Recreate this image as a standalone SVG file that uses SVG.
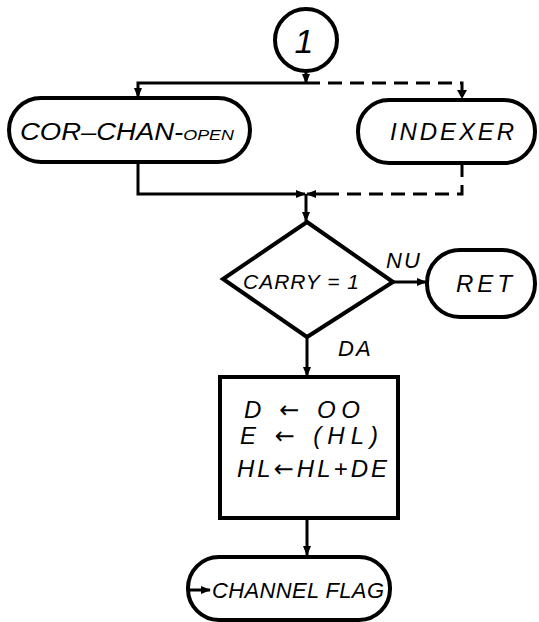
<svg xmlns="http://www.w3.org/2000/svg" width="539" height="622" viewBox="0 0 539 622">
<style>
.sh{fill:#fff;stroke:#000;stroke-width:4}
.ln{fill:none;stroke:#000;stroke-width:3}
.ds{fill:none;stroke:#000;stroke-width:3;stroke-dasharray:14 8}
.t{font-family:"Liberation Sans",Arial,sans-serif;font-style:italic;fill:#000}
.ar{font-family:"DejaVu Sans",sans-serif;font-style:normal}
</style>
<defs>
<marker id="a" markerWidth="10" markerHeight="10" refX="9" refY="5" orient="auto" markerUnits="userSpaceOnUse" viewBox="0 0 10 10">
<path d="M0,1 L10,5 L0,9 Z" fill="#000"/>
</marker>
</defs>
<g id="connectors">
<line class="ln" x1="306" y1="71" x2="306" y2="83" marker-end="url(#a)"/>
<polyline class="ln" points="306,83 138,83 138,97" marker-end="url(#a)"/>
<polyline class="ds" points="306,83 462,83 462,99"/>
<path d="M457,90 L462,99 L467,90 Z" fill="#000"/>
<polyline class="ln" points="138,162 138,194 305,194" marker-end="url(#a)"/>
<polyline class="ds" points="462,163 462,194 330,194"/>
<line class="ln" x1="330" y1="194" x2="307" y2="194" marker-end="url(#a)"/>
<line class="ln" x1="306" y1="194" x2="306" y2="221" marker-end="url(#a)"/>
<line class="ln" x1="393" y1="282" x2="426" y2="282" marker-end="url(#a)"/>
<line class="ln" x1="307" y1="338" x2="307" y2="376" marker-end="url(#a)"/>
<line class="ln" x1="307" y1="519" x2="307" y2="555" marker-end="url(#a)"/>
</g>
<g id="start">
<circle class="sh" cx="306" cy="40" r="31"/>
<text class="t" x="304" y="53" text-anchor="middle" font-size="34">1</text>
</g>
<g id="cor-chan-open">
<rect class="sh" x="9" y="98" width="241" height="64" rx="32"/>
<text class="t" x="20" y="140" font-size="23" textLength="214" lengthAdjust="spacingAndGlyphs">COR–CHAN-<tspan font-size="15">OPEN</tspan></text>
</g>
<g id="indexer">
<rect class="sh" x="358" y="100" width="177" height="63" rx="31"/>
<text class="t" x="390" y="140" font-size="24" textLength="124" lengthAdjust="spacing">INDEXER</text>
</g>
<g id="carry">
<polygon class="sh" points="307,222 393,282 307,337 223,279"/>
<text class="t" x="243" y="289" font-size="21" textLength="116" lengthAdjust="spacing">CARRY = 1</text>
<text class="t" x="386" y="268" font-size="22" letter-spacing="2">NU</text>
<text class="t" x="338" y="356" font-size="22" letter-spacing="2">DA</text>
</g>
<g id="ret">
<rect class="sh" x="427" y="250" width="108" height="67" rx="33"/>
<text class="t" x="456" y="292" font-size="24" textLength="56" lengthAdjust="spacing">RET</text>
</g>
<g id="assign">
<rect class="sh" x="220" y="377" width="178" height="141"/>
<text class="t" x="244" y="418" font-size="24" textLength="116" lengthAdjust="spacing">D <tspan class="ar">←</tspan>  OO</text>
<text class="t" x="240" y="444" font-size="24" textLength="138" lengthAdjust="spacing">E <tspan class="ar">←</tspan> (HL)</text>
<text class="t" x="237" y="477" font-size="24" textLength="150" lengthAdjust="spacing">HL<tspan class="ar">←</tspan>HL+DE</text>
</g>
<g id="channel-flag">
<rect class="sh" x="188" y="557" width="202" height="63" rx="31"/>
<line class="ln" x1="190" y1="590" x2="210" y2="590" marker-end="url(#a)"/>
<text class="t" x="212" y="598" font-size="22" textLength="172" lengthAdjust="spacing">CHANNEL FLAG</text>
</g>
</svg>
